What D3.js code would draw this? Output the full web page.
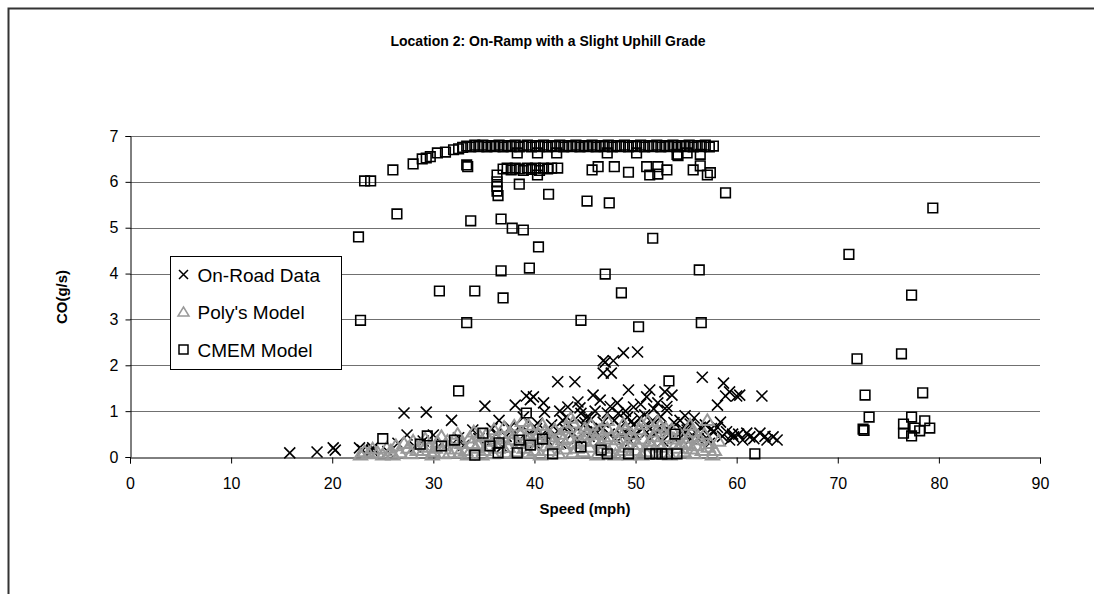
<!DOCTYPE html>
<html>
<head>
<meta charset="utf-8">
<script src="https://cdn.jsdelivr.net/npm/d3@7"></script>
<style>
  html, body { margin: 0; background: #fff; overflow: hidden; }
  svg { display: block; font-family: "Liberation Sans", Arial, sans-serif; }
</style>
</head>
<body>
<svg id="chart" width="1094" height="594"></svg>
<script>
// values: [speed mph, CO g/s]
const onRoad = [
  [15.8,0.09],[18.5,0.11],[20.1,0.2],[20.3,0.15],[22.7,0.2],[23.0,0.15],[23.9,0.15],[24.0,0.2],
  [27.1,0.96],[27.4,0.48],[29.3,0.98],[30.0,0.48],[31.8,0.8],[33.9,0.59],[35.1,1.11],[37.6,0.65],
  [38.1,1.13],[38.9,0.87],[39.2,1.33],[39.9,1.31],[40.3,0.74],[40.9,1.18],[41.5,0.59],[41.7,0.7],
  [42.3,1.64],[43.2,0.87],[43.3,1.09],[43.8,0.52],[44.0,1.64],[44.5,1.07],[45.2,0.87],[45.8,1.35],
  [45.8,0.59],[46.5,1.24],[46.8,1.83],[46.8,2.1],[46.8,0.76],[47.0,2.07],[47.2,0.96],[47.6,1.83],
  [47.8,2.1],[48.2,1.18],[48.5,0.65],[48.8,2.27],[49.2,0.87],[49.3,1.46],[49.8,1.09],[49.8,0.7],
  [50.2,2.29],[50.4,0.85],[51.1,1.31],[51.1,0.54],[51.4,1.46],[51.7,0.8],[52.2,1.18],[52.4,0.65],
  [52.9,1.42],[53.1,1.02],[53.1,1.1],[53.6,1.35],[53.7,0.44],[54.4,0.8],[55.1,0.59],[56.4,0.65],
  [56.6,1.74],[57.7,0.54],[58.1,1.13],[58.1,0.65],[58.4,0.76],[58.7,1.61],[58.9,1.33],[59.3,1.42],
  [59.3,0.37],[59.7,0.44],[60.0,1.33],[60.3,1.35],[60.6,0.37],[61.3,0.44],[62.3,0.52],[62.5,1.33],
  [63.0,0.37],[63.6,0.44],[64.0,0.37],
  [25.5,0.12],[26.5,0.3],[28.2,0.22],[29.0,0.35],[30.8,0.3],[32.5,0.42],[33.0,0.25],[34.5,0.4],
  [35.5,0.3],[36.2,0.5],[36.8,0.22],[37.2,0.45],[38.4,0.35],[39.5,0.52],[40.0,0.3],[40.6,0.45],
  [41.2,0.38],[42.0,0.5],[42.6,0.3],[43.0,0.62],[44.2,0.4],[44.8,0.7],[45.4,0.45],[46.1,0.55],
  [46.4,0.35],[47.4,0.5],[48.0,0.4],[48.9,0.55],[49.5,0.35],[50.0,0.5],[50.7,0.62],[51.4,0.4],
  [52.0,0.5],[52.7,0.35],[53.3,0.58],[54.0,0.42],[54.8,0.5],[55.5,0.4],[56.0,0.52],[57.0,0.42],
  [57.3,0.3],[58.6,0.45],[59.0,0.55],[60.2,0.5],[61.7,0.4],[62.8,0.45],[44.6,0.95],[47.9,0.8],
  [50.9,0.92],[54.9,0.9],[56.9,0.7],[36.5,0.8],[38.6,0.6],[42.8,0.8],
  [39.6,1.25],[41.0,0.98],[42.5,1.0],[44.3,1.2],[45.0,0.75],[46.0,1.0],[46.6,0.62],[47.5,1.1],
  [48.3,0.95],[48.7,0.45],[49.6,0.78],[50.5,1.15],[51.0,0.7],[51.8,1.05],[52.5,0.88],[53.0,0.6],
  [53.8,0.75],[54.6,0.62],[55.4,0.72],[55.8,0.85],[56.2,0.4],[57.5,0.62],[59.6,0.5],[61.0,0.52],
  [35.8,0.62],[37.9,0.52],[40.2,0.62],[43.5,0.72],[45.6,0.82],[49.0,1.0]
];

const polyModel = [
  [22.8,0.05],[23.2,0.12],[23.6,0.08],[24.0,0.18],[24.5,0.1],[25.0,0.05],[25.4,0.2],[25.8,0.14],
  [26.3,0.25],[26.7,0.1],[27.1,0.3],[27.5,0.2],[28.0,0.35],[28.4,0.15],[28.8,0.28],[29.2,0.4],
  [29.6,0.22],[30.0,0.12],[30.4,0.33],[30.8,0.45],[31.2,0.25],[31.6,0.1],[32.0,0.38],[32.4,0.5],
  [32.8,0.3],[33.2,0.15],[33.6,0.42],[34.0,0.55],[34.4,0.28],[34.8,0.05],[35.2,0.48],[35.6,0.35],
  [36.0,0.6],[36.4,0.2],[36.8,0.45],[37.2,0.1],[37.6,0.52],[38.0,0.68],[38.4,0.3],[38.8,0.78],
  [39.2,0.4],[39.6,0.6],[40.0,0.15],[40.4,0.5],[40.8,0.7],[41.2,0.25],[41.6,0.45],[42.0,0.6],
  [42.4,0.08],[42.8,0.38],[43.2,0.65],[43.6,0.85],[44.0,0.3],[44.4,0.55],[44.8,0.12],[45.2,0.48],
  [45.6,0.7],[46.0,0.35],[46.4,0.58],[46.8,0.2],[47.2,0.62],[47.6,0.45],[48.0,0.05],[48.4,0.55],
  [48.8,0.72],[49.2,0.3],[49.6,0.5],[50.0,0.15],[50.4,0.6],[50.8,0.4],[51.2,0.78],[51.6,0.25],
  [52.0,0.55],[52.4,0.68],[52.8,0.1],[53.2,0.45],[53.6,0.6],[54.0,0.3],[54.4,0.5],[54.8,0.12],
  [55.2,0.42],[55.6,0.55],[56.0,0.25],[56.4,0.38],[56.8,0.5],[57.1,0.8],[57.4,0.3],[57.8,0.15],
  [58.2,0.35],
  [29.9,0.05],[31.0,0.08],[32.2,0.18],[33.4,0.05],[34.2,0.2],[35.0,0.15],[35.9,0.08],[36.6,0.3],
  [37.4,0.22],[38.2,0.12],[39.0,0.2],[39.8,0.35],[40.6,0.05],[41.4,0.15],[42.2,0.28],[43.0,0.18],
  [43.8,0.1],[44.6,0.35],[45.4,0.22],[46.2,0.05],[47.0,0.4],[47.8,0.25],[48.6,0.15],[49.4,0.05],
  [50.2,0.28],[51.0,0.12],[51.8,0.45],[52.6,0.22],[53.4,0.05],[54.2,0.2],[55.0,0.3],[55.8,0.08],
  [56.6,0.15],[57.6,0.05],[37.0,0.65],[41.0,0.55],[45.0,0.62],[49.0,0.6],[53.0,0.62],[55.4,0.7],
  [26.0,0.05],[27.8,0.08],[29.0,0.15],[30.2,0.2],[31.4,0.35],[32.6,0.1],[33.8,0.3],[34.6,0.45],
  [35.4,0.25],[36.2,0.4],[37.8,0.38],[38.6,0.5],[39.4,0.1],[40.2,0.42],[41.8,0.32],[42.6,0.5],
  [43.4,0.42],[44.2,0.2],[45.8,0.5],[46.6,0.3],[47.4,0.12],[48.2,0.38],[49.0,0.22],[49.8,0.4],
  [50.6,0.05],[51.4,0.35],[52.2,0.3],[53.8,0.4],[54.6,0.28],[55.6,0.18],[56.2,0.45],[57.2,0.22],
  [39.4,0.7],[43.8,0.75],[47.2,0.8],[50.6,0.72],[52.2,0.78]
];

const cmemModel = [
  // rising edge of the upper band
  [23.2,6.02],[23.8,6.02],[26.0,6.26],[28.0,6.39],[28.9,6.5],[29.3,6.52],[29.7,6.55],[30.4,6.63],
  [31.2,6.65],[32.0,6.7],[32.5,6.72],[32.9,6.75],
  // upper band
  [33.3,6.78],[33.7,6.76],[34.1,6.8],[34.5,6.77],[34.9,6.8],[35.3,6.76],[35.7,6.79],[36.1,6.77],
  [36.5,6.8],[36.9,6.76],[37.3,6.79],[37.7,6.77],[38.1,6.8],[38.5,6.76],[38.9,6.78],[39.3,6.8],
  [39.7,6.76],[40.1,6.79],[40.5,6.77],[40.9,6.8],[41.3,6.76],[41.7,6.79],[42.1,6.77],[42.5,6.8],
  [42.9,6.76],[43.3,6.79],[43.7,6.77],[44.1,6.8],[44.5,6.76],[44.9,6.79],[45.3,6.77],[45.7,6.8],
  [46.1,6.76],[46.5,6.79],[46.9,6.77],[47.3,6.8],[47.7,6.76],[48.1,6.79],[48.5,6.77],[48.9,6.8],
  [49.3,6.76],[49.7,6.79],[50.1,6.77],[50.5,6.8],[50.9,6.76],[51.3,6.79],[51.7,6.77],[52.1,6.8],
  [52.5,6.76],[52.9,6.79],[53.3,6.77],[53.7,6.8],[54.1,6.76],[54.5,6.79],[54.9,6.77],[55.3,6.8],
  [55.7,6.76],[56.1,6.79],[56.5,6.77],[56.9,6.8],[57.3,6.76],[57.7,6.78],
  [38.3,6.63],[40.3,6.63],[42.2,6.63],[47.2,6.63],[50.1,6.63],[54.1,6.6],[54.2,6.57],[55.1,6.63],
  [56.4,6.6],[33.3,6.37],[33.4,6.33],
  // lower band
  [36.9,6.28],[37.3,6.3],[37.7,6.26],[38.1,6.3],[38.5,6.28],[38.9,6.25],[39.3,6.3],[39.7,6.27],
  [40.1,6.3],[40.5,6.25],[40.9,6.3],[41.3,6.28],[41.7,6.3],[42.3,6.3],[40.3,6.15],
  [45.7,6.26],[46.3,6.33],[47.9,6.33],[49.3,6.21],[51.1,6.33],[51.4,6.15],[52.2,6.33],[52.2,6.17],
  [53.1,6.26],[55.7,6.26],[56.4,6.35],[57.4,6.2],[57.1,6.15],
  // scattered
  [36.3,6.15],[36.3,6.0],[36.3,5.9],[36.3,5.8],[36.4,5.7],[38.5,5.95],[41.4,5.73],[45.2,5.58],
  [47.4,5.54],[58.9,5.76],[79.4,5.43],[26.4,5.3],[33.7,5.15],[36.7,5.19],[37.8,4.99],[38.9,4.95],
  [40.4,4.58],[51.7,4.77],[22.6,4.8],[71.1,4.42],[36.7,4.06],[39.5,4.12],[47.0,3.99],[56.3,4.08],
  [30.6,3.62],[34.1,3.62],[36.9,3.47],[48.6,3.58],[77.3,3.53],[22.8,2.98],[33.3,2.93],[44.6,2.98],
  [50.3,2.84],[56.5,2.93],[71.9,2.14],[76.3,2.25],[53.3,1.66],[32.5,1.44],[72.7,1.35],[78.4,1.40],
  [39.2,0.96],[73.1,0.87],[77.3,0.87],[72.5,0.61],[72.6,0.58],[76.5,0.72],[78.6,0.79],[79.1,0.63],
  [78.1,0.57],[77.3,0.46],[77.6,0.63],[76.5,0.52],
  // near zero
  [25.0,0.4],[28.7,0.28],[29.4,0.46],[30.8,0.24],[32.1,0.37],[34.9,0.52],[35.6,0.24],[36.5,0.31],
  [38.5,0.37],[39.6,0.26],[40.8,0.39],[44.6,0.22],[46.6,0.15],[53.9,0.5],
  [34.1,0.04],[36.4,0.09],[38.3,0.09],[41.8,0.07],[47.2,0.07],[49.3,0.07],[51.4,0.07],[52.0,0.07],
  [52.6,0.07],[53.1,0.07],[54.1,0.07],[61.8,0.07]
];

const xTicks = [0, 10, 20, 30, 40, 50, 60, 70, 80, 90];
const yTicks = [0, 1, 2, 3, 4, 5, 6, 7];
const legendLabels = ["On-Road Data", "Poly's Model", "CMEM Model"];

const svg = d3.select('#chart');
const x = d3.scaleLinear().domain([0, 90]).range([130, 1040]);
const y = d3.scaleLinear().domain([0, 7]).range([457, 136]);

// outer frame, runs off the right and bottom of the page
svg.append('rect').attr('x', 8.5).attr('y', 8.5).attr('width', 1200).attr('height', 700)
  .attr('fill', 'none').attr('stroke', '#333').attr('stroke-width', 2);

svg.append('text').attr('x', 548).attr('y', 46).attr('text-anchor', 'middle')
  .attr('font-size', 14).attr('font-weight', 'bold')
  .text('Location 2: On-Ramp with a Slight Uphill Grade');

// gridlines
svg.append('g').selectAll('line').data(yTicks.slice(1)).enter().append('line')
  .attr('x1', x(0)).attr('x2', x(90))
  .attr('y1', d => Math.round(y(d)) + 0.5).attr('y2', d => Math.round(y(d)) + 0.5)
  .attr('stroke', '#707070').attr('stroke-width', 1);

const yAxis = d3.axisLeft(y).tickValues(yTicks).tickFormat(d3.format('d')).tickSize(5).tickPadding(7);
const gy = svg.append('g').attr('transform', `translate(${x(0) + 0.5},0)`).call(yAxis);
const xAxis = d3.axisBottom(x).tickValues(xTicks).tickFormat(d3.format('d')).tickSize(6).tickPadding(14);
const gx = svg.append('g').attr('transform', `translate(0,${y(0) + 0.5})`).call(xAxis);
[gx, gy].forEach(g => {
  g.selectAll('.domain, line').attr('stroke', '#000');
  g.selectAll('text').attr('font-size', 16).attr('font-family', '"Liberation Sans", Arial, sans-serif').attr('fill', '#000');
});

svg.append('text').attr('x', 585).attr('y', 514).attr('text-anchor', 'middle')
  .attr('font-size', 15).attr('font-weight', 'bold').text('Speed (mph)');
svg.append('text').attr('transform', 'translate(67,297) rotate(-90)').attr('text-anchor', 'middle')
  .attr('font-size', 15).attr('font-weight', 'bold').text('CO(g/s)');

// marker shapes
const cross = s => `M${-s},${-s}L${s},${s}M${-s},${s}L${s},${-s}`;
const tri = s => `M0,${-s}L${s * 1.1},${s * 0.8}L${-s * 1.1},${s * 0.8}Z`;
const sq = s => `M${-s},${-s}H${s}V${s}H${-s}Z`;

const plot = svg.append('g');
plot.append('g').selectAll('path').data(onRoad).enter().append('path')
  .attr('transform', d => `translate(${x(d[0])},${y(d[1])})`)
  .attr('d', cross(5.5)).attr('stroke', '#000').attr('stroke-width', 1.6).attr('fill', 'none');
plot.append('g').selectAll('path').data(polyModel).enter().append('path')
  .attr('transform', d => `translate(${x(d[0])},${y(d[1])})`)
  .attr('d', tri(6)).attr('stroke', '#999').attr('stroke-width', 2).attr('fill', 'none');
plot.append('g').selectAll('path').data(cmemModel).enter().append('path')
  .attr('transform', d => `translate(${x(d[0])},${y(d[1])})`)
  .attr('d', sq(4.8)).attr('stroke', '#000').attr('stroke-width', 1.6).attr('fill', 'none');

// legend
const lg = svg.append('g').attr('transform', 'translate(170.5,256.5)');
lg.append('rect').attr('width', 171).attr('height', 113)
  .attr('fill', '#fff').attr('stroke', '#000').attr('stroke-width', 1);
const markers = [
  {d: cross(4.5), stroke: '#000', w: 1.5},
  {d: tri(5), stroke: '#999', w: 1.5},
  {d: sq(4.5), stroke: '#000', w: 1.5}
];
legendLabels.forEach((t, i) => {
  const yy = 18 + i * 37.5;
  lg.append('path').attr('transform', `translate(13,${yy})`).attr('d', markers[i].d)
    .attr('stroke', markers[i].stroke).attr('stroke-width', markers[i].w).attr('fill', 'none');
  lg.append('text').attr('x', 27).attr('y', yy + 7).attr('font-size', 19).text(t);
});
</script>
</body>
</html>
